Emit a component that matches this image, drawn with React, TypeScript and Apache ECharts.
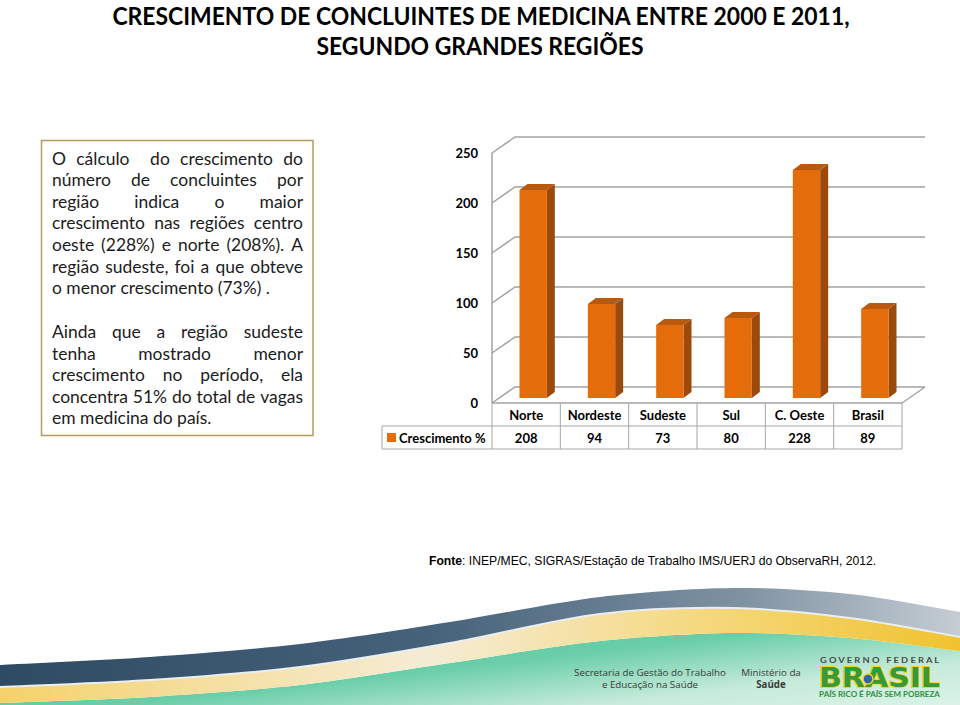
import React, { useEffect, useRef } from "react";
import * as echarts from "echarts";

// ---------- data ----------
const categories = ["Norte", "Nordeste", "Sudeste", "Sul", "C. Oeste", "Brasil"];
const growthValues = [208, 94, 73, 80, 228, 89];
const yTicks = [0, 50, 100, 150, 200, 250];
const seriesName = "Crescimento %";
const titleLines = [
  "CRESCIMENTO DE CONCLUINTES DE MEDICINA ENTRE 2000 E 2011,",
  "SEGUNDO GRANDES REGIÕES",
];
const paragraph1 = [
  "O cálculo  do crescimento do",
  "número de concluintes por",
  "região indica o maior",
  "crescimento nas regiões centro",
  "oeste (228%) e norte (208%). A",
  "região sudeste, foi a que obteve",
  "o menor crescimento (73%) .",
];
const paragraph2 = [
  "Ainda que a região sudeste",
  "tenha mostrado menor",
  "crescimento no período, ela",
  "concentra 51% do total de vagas",
  "em medicina do país.",
];
const sourceBold = "Fonte";
const sourceRest = ": INEP/MEC, SIGRAS/Estação de Trabalho IMS/UERJ do ObservaRH, 2012.";
const footerSecretaria = ["Secretaria de Gestão do Trabalho", "e Educação na Saúde"];
const footerMinisterio = ["Ministério da", "Saúde"];
const govTop = "G O V E R N O   F E D E R A L";
const govMain = "BRASIL";
const govSlogan = "PAÍS RICO É PAÍS SEM POBREZA";

// ---------- layout / style constants ----------
const W = 960;
const H = 705;
const GRID_LEFT = 492;
const GRID_RIGHT_X = 902;
const AXIS_TOP = 153;
const AXIS_BOTTOM = 403;
const WALL_DX = 23;
const WALL_DY = -16;
const BAR_SHIFT_X = 7;
const BAR_SHIFT_Y = -5;
const BAR_DEPTH_X = 8;
const BAR_DEPTH_Y = -6;
const BAR_RATIO = 0.4;
const ROW_H = 23;
const LEGEND_W = 110;
const GRID_COLOR = "#a3a3a3";
const TABLE_COLOR = "#a6a6a6";
const BAR_FRONT = "#e46c0a";
const BAR_SIDE = "#9c4a0c";
const BAR_TOP = "#b9580f";
const FONT = "Lato";

let measureCtx: CanvasRenderingContext2D | null = null;
function measure(text: string, font: string): number {
  if (!measureCtx) measureCtx = document.createElement("canvas").getContext("2d");
  measureCtx!.font = font;
  return measureCtx!.measureText(text).width;
}

function txt(x: number, y: number, text: string, o: any = {}, extra: any = {}) {
  const align = o.align || "left";
  const va = o.verticalAlign || "middle";
  return {
    type: "text",
    x,
    y,
    silent: true,
    ...extra,
    style: {
      text,
      fill: o.fill || "#000",
      fontSize: o.fontSize || 12,
      fontFamily: o.fontFamily || FONT,
      fontWeight: o.fontWeight || "normal",
      align,
      verticalAlign: va,
      textAlign: align,
      textVerticalAlign: va,
      ...(o.stroke ? { stroke: o.stroke, lineWidth: o.lineWidth || 1 } : {}),
      ...(o.rich ? { rich: o.rich } : {}),
    },
  };
}

function justified(lines: string[], startY: number, lineH: number, left: number, width: number, fs: number) {
  const font = `${fs}px ${FONT}`;
  const spaceW = measure(" ", font);
  const out: any[] = [];
  lines.forEach((line, i) => {
    const tokens = line.split(" ");
    const widths = tokens.map((t) => (t ? measure(t, font) : 0));
    const sum = widths.reduce((a, b) => a + b, 0);
    const nSp = tokens.length - 1;
    const last = i === lines.length - 1;
    const gap = last || nSp === 0 ? spaceW : (width - sum) / nSp;
    let x = left;
    tokens.forEach((t, k) => {
      if (t) out.push(txt(x, startY + i * lineH, t, { fontSize: fs, fill: "#1c1c1c" }));
      x += widths[k] + gap;
    });
  });
  return out;
}

function buildGraphics() {
  const g: any[] = [];
  // Title (condensed bold)
  const tfs = 25;
  const t1w = measure(titleLines[0], `bold ${tfs}px ${FONT}`);
  const tScale = 738 / t1w;
  g.push(txt(481, 15, titleLines[0], { fontSize: tfs, fontWeight: "bold", align: "center" }, { scaleX: tScale }));
  g.push(txt(480, 45, titleLines[1], { fontSize: tfs, fontWeight: "bold", align: "center" }, { scaleX: tScale }));

  // Text box
  g.push({
    type: "rect",
    silent: true,
    shape: { x: 41.5, y: 140.5, width: 271.5, height: 295 },
    style: { fill: "#fff", stroke: "#b59b5c", lineWidth: 1.5 },
  });
  const refLine = paragraph1[paragraph1.length - 1];
  let bfs = (16 * 245) / measure(refLine, `16px ${FONT}`);
  const justLines = [...paragraph1.slice(0, -1), ...paragraph2.slice(0, -1)];
  const maxNat = Math.max(...justLines.map((l) => measure(l.replace(/\s+/g, " "), `${bfs}px ${FONT}`)));
  if (maxNat > 249) bfs = (bfs * 249) / maxNat;
  g.push(...justified(paragraph1, 158, 21.65, 52, 251, bfs));
  g.push(...justified(paragraph2, 331.5, 21.6, 52, 251, bfs));

  // Source
  const sfsBase = 12;
  const sw =
    measure(sourceBold, `bold ${sfsBase}px Liberation Sans`) + measure(sourceRest, `${sfsBase}px Liberation Sans`);
  const sfs = (sfsBase * 448) / sw;
  g.push(
    txt(429, 561, `{b|${sourceBold}}{n|${sourceRest}}`, {
      fontSize: sfs,
      fontFamily: "Liberation Sans",
      rich: {
        b: { fontWeight: "bold", fontSize: sfs, fontFamily: "Liberation Sans", fill: "#000", color: "#000" },
        n: { fontWeight: "normal", fontSize: sfs, fontFamily: "Liberation Sans", fill: "#000", color: "#000" },
      },
    })
  );

  // Footer wave bands
  const darkTop = [[-40, 667], [0, 665], [150, 657], [300, 644], [450, 622], [600, 597], [733, 588], [850, 594], [960, 612], [1000, 620]];
  const light = [[-40, 688], [0, 687], [150, 680], [300, 667], [450, 643], [600, 614], [733, 608], [850, 618], [960, 637], [1000, 645]];
  const greenTop = [[-40, 704], [0, 703], [150, 697], [300, 685], [450, 663], [600, 641], [733, 633], [850, 638], [960, 651], [1000, 656]];
  const rev = (a: number[][]) => a.slice().reverse();
  g.push({
    type: "polygon",
    silent: true,
    shape: { points: [...greenTop, [1000, 740], [-40, 740]], smooth: 0.3 },
    style: {
      fill: new echarts.graphic.LinearGradient(0, 0, 1, 1, [
        { offset: 0, color: "#46c494" },
        { offset: 0.38, color: "#6acea8" },
        { offset: 0.6, color: "#c6ebda" },
        { offset: 1, color: "#f5fbf8" },
      ]),
    },
  });
  g.push({
    type: "polygon",
    silent: true,
    shape: { points: [...light, ...rev(greenTop)], smooth: 0.3 },
    style: {
      fill: new echarts.graphic.LinearGradient(0, 0, 1, 0, [
        { offset: 0, color: "#f4d05e" },
        { offset: 0.2, color: "#f5dc95" },
        { offset: 0.45, color: "#f5ecd6" },
        { offset: 0.72, color: "#f5d87c" },
        { offset: 1, color: "#efbf22" },
      ]),
    },
  });
  g.push({
    type: "polygon",
    silent: true,
    shape: { points: [...darkTop, ...rev(light)], smooth: 0.3 },
    style: {
      fill: new echarts.graphic.LinearGradient(0, 0, 1, 0, [
        { offset: 0, color: "#2d4961" },
        { offset: 0.45, color: "#45627a" },
        { offset: 0.75, color: "#7f92a2" },
        { offset: 1, color: "#d3d9de" },
      ]),
    },
  });
  g.push({
    type: "polyline",
    silent: true,
    shape: { points: light, smooth: 0.3 },
    style: { stroke: "#e9eef3", lineWidth: 2, fill: null },
  });

  // Footer logos
  const ffs = (9.5 * 152) / measure(footerSecretaria[0], `9.5px Open Sans`);
  const lf = { fontSize: ffs, fontFamily: "Open Sans", fill: "#3a3a3a", align: "center" };
  g.push(txt(650, 672, footerSecretaria[0], lf));
  g.push(txt(650, 684.5, footerSecretaria[1], lf));
  g.push(txt(771, 672, footerMinisterio[0], lf));
  g.push(txt(771, 684.5, footerMinisterio[1], { ...lf, fontWeight: "bold" }));
  const gtW = measure(govTop, `bold 7px ${FONT}`);
  g.push(txt(879.5, 660, govTop, { fontSize: 7, fontWeight: "bold", fill: "#4a4a4a", align: "center" }, { scaleX: 121 / gtW }));
  const gmW = measure(govMain, `900 27px DejaVu Sans`);
  g.push(
    txt(
      879.5,
      678.5,
      govMain,
      { fontSize: 27, fontFamily: "DejaVu Sans", fontWeight: 900, fill: "#37993a", align: "center", stroke: "#f3d21c", lineWidth: 2 },
      { scaleX: 121 / gmW }
    )
  );
  g.push({
    type: "circle",
    silent: true,
    shape: { cx: 868, cy: 679, r: 5 },
    style: { fill: "#2d63b0", stroke: "#f3d21c", lineWidth: 1.5 },
  });
  const gsW = measure(govSlogan, `bold 7px ${FONT}`);
  g.push(txt(879.5, 694.5, govSlogan, { fontSize: 7, fontWeight: "bold", fill: "#2f8f3c", align: "center" }, { scaleX: 121 / gsW }));
  return g;
}

function frameRender(params: any, api: any) {
  const cs = params.coordSys;
  const left = cs.x;
  const right = cs.x + cs.width;
  const bottom = api.coord([0, 0])[1];
  const top = api.coord([0, yTicks[yTicks.length - 1]])[1];
  const bandW = cs.width / categories.length;
  const gl = { stroke: GRID_COLOR, lineWidth: 1.5, fill: null };
  const tl = { stroke: TABLE_COLOR, lineWidth: 1, fill: null };
  const ch: any[] = [];
  yTicks.forEach((t) => {
    const y = api.coord([0, t])[1];
    ch.push({
      type: "polyline",
      shape: { points: [[left, y], [left + WALL_DX, y + WALL_DY], [right + WALL_DX, y + WALL_DY]] },
      style: gl,
    });
  });
  ch.push({ type: "line", shape: { x1: left, y1: top, x2: left, y2: bottom }, style: gl });
  ch.push({
    type: "polyline",
    shape: { points: [[right, bottom], [right + WALL_DX, bottom + WALL_DY]] },
    style: gl,
  });
  // table
  ch.push({ type: "line", shape: { x1: left, y1: bottom, x2: right, y2: bottom }, style: { ...gl } });
  ch.push({ type: "line", shape: { x1: left - LEGEND_W, y1: bottom + ROW_H, x2: right, y2: bottom + ROW_H }, style: tl });
  ch.push({ type: "line", shape: { x1: left - LEGEND_W, y1: bottom + 2 * ROW_H, x2: right, y2: bottom + 2 * ROW_H }, style: tl });
  for (let i = 0; i <= categories.length; i++) {
    const x = left + i * bandW;
    ch.push({ type: "line", shape: { x1: x, y1: bottom, x2: x, y2: bottom + 2 * ROW_H }, style: tl });
  }
  ch.push({
    type: "line",
    shape: { x1: left - LEGEND_W, y1: bottom + ROW_H, x2: left - LEGEND_W, y2: bottom + 2 * ROW_H },
    style: tl,
  });
  ch.push({
    type: "rect",
    shape: { x: left - LEGEND_W + 5, y: bottom + ROW_H + 7, width: 9, height: 9 },
    style: { fill: BAR_FRONT },
  });
  ch.push(
    txt(left - LEGEND_W + 17, bottom + ROW_H * 1.5, seriesName, { fontSize: 13, fontWeight: "bold", fill: "#000" })
  );
  return { type: "group", children: ch };
}

function barRender(params: any, api: any) {
  const idx = api.value(0);
  const v = api.value(1);
  const topPt = api.coord([idx, v]);
  const basePt = api.coord([idx, 0]);
  const bw = api.size([1, 0])[0] * BAR_RATIO;
  const xl = topPt[0] + BAR_SHIFT_X - bw / 2;
  const xr = xl + bw;
  const yT = topPt[1] + BAR_SHIFT_Y;
  const yB = basePt[1] + BAR_SHIFT_Y;
  return {
    type: "group",
    children: [
      {
        type: "polygon",
        shape: { points: [[xr, yT], [xr + BAR_DEPTH_X, yT + BAR_DEPTH_Y], [xr + BAR_DEPTH_X, yB + BAR_DEPTH_Y], [xr, yB]] },
        style: { fill: BAR_SIDE },
      },
      {
        type: "polygon",
        shape: { points: [[xl, yT], [xl + BAR_DEPTH_X, yT + BAR_DEPTH_Y], [xr + BAR_DEPTH_X, yT + BAR_DEPTH_Y], [xr, yT]] },
        style: { fill: BAR_TOP },
      },
      { type: "rect", shape: { x: xl, y: yT, width: bw, height: yB - yT }, style: { fill: BAR_FRONT } },
    ],
  };
}

function valueRender(params: any, api: any) {
  const idx = api.value(0);
  const v = api.value(1);
  const p = api.coord([idx, 0]);
  return txt(p[0], p[1] + ROW_H * 1.5, String(v), { fontSize: 13, fontWeight: "bold", fill: "#000", align: "center" });
}

export default function App() {
  const ref = useRef<HTMLDivElement>(null);
  useEffect(() => {
    const el = ref.current!;
    const chart = echarts.init(el, null, { renderer: "svg", width: W, height: H });
    const barData = growthValues.map((v, i) => [i, v]);
    chart.setOption({
      animation: false,
      backgroundColor: "#fff",
      grid: {
        left: GRID_LEFT,
        right: W - GRID_RIGHT_X,
        top: AXIS_TOP,
        bottom: H - AXIS_BOTTOM,
        containLabel: false,
      },
      xAxis: {
        type: "category",
        data: categories,
        axisLine: { show: false },
        axisTick: { show: false },
        splitLine: { show: false },
        axisLabel: {
          interval: 0,
          margin: 11.5,
          verticalAlign: "middle",
          fontFamily: FONT,
          fontWeight: "bold",
          fontSize: 13,
          color: "#000",
        },
      },
      yAxis: {
        type: "value",
        min: 0,
        max: 250,
        interval: 50,
        axisLine: { show: false },
        axisTick: { show: false },
        splitLine: { show: false },
        axisLabel: { margin: 14, fontFamily: FONT, fontWeight: "bold", fontSize: 13, color: "#000" },
      },
      graphic: { elements: buildGraphics() },
      series: [
        { type: "custom", name: "frame", data: [[0, 0]], renderItem: frameRender, silent: true, clip: false, z: 1 },
        {
          type: "custom",
          name: seriesName,
          data: barData,
          encode: { x: 0, y: 1 },
          renderItem: barRender,
          silent: true,
          clip: false,
          z: 2,
        },
        {
          type: "custom",
          name: "values",
          data: barData,
          encode: { x: 0, y: 1 },
          renderItem: valueRender,
          silent: true,
          clip: false,
          z: 3,
        },
      ],
    });
    return () => chart.dispose();
  }, []);
  return (
    <div
      ref={ref}
      style={{ position: "absolute", left: 0, top: 0, width: W, height: H, background: "#fff" }}
    />
  );
}
